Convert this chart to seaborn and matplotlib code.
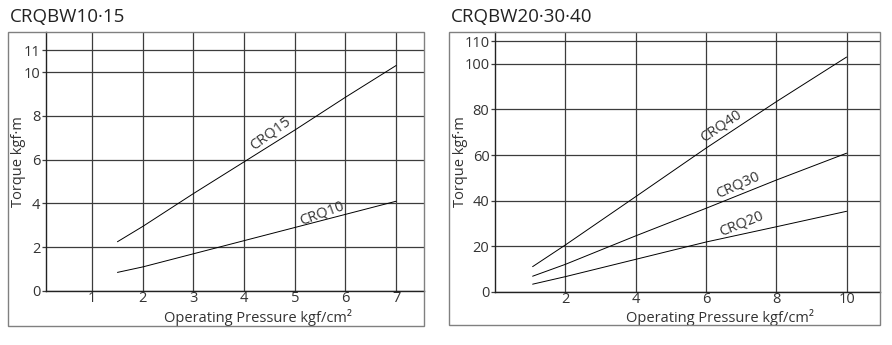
import matplotlib
matplotlib.use("Agg")
import matplotlib.pyplot as plt
from matplotlib.patches import Rectangle
import seaborn as sns
import pandas as pd

sns.set_theme(style="white")
plt.rcParams['font.family'] = ['Open Sans', 'DejaVu Sans']

# ---- data: left chart (CRQBW10·15) ----
left_title = "CRQBW10·15"
left_x = [1.5, 2, 3, 4, 5, 6, 7]
crq15 = [2.25, 2.95, 4.45, 5.9, 7.35, 8.85, 10.3]
crq10 = [0.85, 1.1, 1.7, 2.3, 2.9, 3.5, 4.1]
left_xticks = [1, 2, 3, 4, 5, 6, 7]
left_yticks = [0, 2, 4, 6, 8, 10, 11]

# ---- data: right chart (CRQBW20·30·40) ----
right_title = "CRQBW20·30·40"
right_x = [1.07, 2, 4, 6, 8, 10]
crq40 = [11.0, 20.5, 41.7, 63.0, 83.4, 103.0]
crq30 = [6.8, 12.0, 24.5, 36.6, 49.0, 60.8]
crq20 = [3.3, 6.6, 14.2, 21.8, 28.5, 35.3]
right_xticks = [2, 4, 6, 8, 10]
right_yticks = [0, 20, 40, 60, 80, 100, 110]

xlabel = "Operating Pressure kgf/cm²"
ylabel = "Torque kgf·m"

W, H = 892, 345
fig = plt.figure(figsize=(W / 100, H / 100), dpi=100)

def fx(px):
    return px / W

def fy(py):
    return 1 - py / H

grid_col = "#3c3c3c"
frame_col = "#808080"
txt_col = "#333333"
FS = 10.5

def setup(ax, xlim, ylim, xticks, yticks):
    ax.set_xlim(*xlim)
    ax.set_ylim(*ylim)
    ax.set_xticks(xticks)
    ax.set_yticks(yticks)
    ax.set_xticklabels([str(t) for t in xticks], fontsize=FS, color=txt_col)
    ax.set_yticklabels([str(t) for t in yticks], fontsize=FS, color=txt_col)
    ax.tick_params(axis="y", which="both", left=True, length=3, width=0.9,
                   color=grid_col, pad=1)
    ax.tick_params(axis="x", which="both", bottom=False, length=0, pad=0)
    ax.grid(True, color=grid_col, linewidth=0.9)
    for s in ["top", "right"]:
        ax.spines[s].set_visible(False)
    for s in ["left", "bottom"]:
        ax.spines[s].set_color("#222222")
        ax.spines[s].set_linewidth(1.0)
    ax.set_facecolor("white")

def labels(ax, left_px, bottom_px, width_px, height_px, xcenter_px, ylab_px):
    ax.set_xlabel(xlabel, fontsize=FS, color=txt_col)
    ax.set_ylabel(ylabel, fontsize=FS, color=txt_col)
    ax.xaxis.set_label_coords((xcenter_px - left_px) / width_px,
                              (bottom_px - 317) / height_px)
    ax.yaxis.set_label_coords((ylab_px - left_px) / width_px, 0.5)
    ax.xaxis.label.set_va("center")
    ax.yaxis.label.set_va("center")

# ---- left ----
axL = fig.add_axes([fx(46), fy(291), fx(424) - fx(46), fy(32) - fy(291)])
setup(axL, (0.09, 7.55), (0, 11.83), left_xticks, left_yticks)
dfL = pd.DataFrame({"x": left_x * 2, "y": crq15 + crq10,
                    "s": ["CRQ15"] * len(left_x) + ["CRQ10"] * len(left_x)})
sns.lineplot(data=dfL, x="x", y="y", units="s", estimator=None, color="black",
             linewidth=0.7, ax=axL, legend=False)
labels(axL, 46, 291, 378, 259, 258, 19)
axL.text(4.51, 7.2, "CRQ15", rotation=36, ha="center", va="center",
         rotation_mode="anchor", fontsize=FS, color=txt_col)
axL.text(5.54, 3.56, "CRQ10", rotation=20, ha="center", va="center",
         rotation_mode="anchor", fontsize=FS, color=txt_col)
fig.patches.append(Rectangle((fx(8), fy(326)), fx(424) - fx(8), fy(32) - fy(326),
                             transform=fig.transFigure, fill=False,
                             edgecolor=frame_col, linewidth=1.0))
fig.text(fx(10), fy(17), left_title, fontsize=13.5, color="#222222",
         ha="left", va="center")

# ---- right ----
axR = fig.add_axes([fx(495), fy(291.7), fx(880) - fx(495), fy(32) - fy(291.7)])
setup(axR, (0, 10.95), (0, 114), right_xticks, right_yticks)
dfR = pd.DataFrame({"x": right_x * 3, "y": crq40 + crq30 + crq20,
                    "s": ["CRQ40"] * len(right_x) + ["CRQ30"] * len(right_x)
                    + ["CRQ20"] * len(right_x)})
sns.lineplot(data=dfR, x="x", y="y", units="s", estimator=None, color="black",
             linewidth=0.7, ax=axR, legend=False)
labels(axR, 495, 291.7, 385, 259.7, 720, 460)
axR.text(6.42, 72.9, "CRQ40", rotation=34, ha="center", va="center",
         rotation_mode="anchor", fontsize=FS, color=txt_col)
axR.text(6.9, 46.9, "CRQ30", rotation=24, ha="center", va="center",
         rotation_mode="anchor", fontsize=FS, color=txt_col)
axR.text(7.0, 29.7, "CRQ20", rotation=22, ha="center", va="center",
         rotation_mode="anchor", fontsize=FS, color=txt_col)
fig.patches.append(Rectangle((fx(449), fy(325)), fx(880) - fx(449), fy(32) - fy(325),
                             transform=fig.transFigure, fill=False,
                             edgecolor=frame_col, linewidth=1.0))
fig.text(fx(451), fy(17), right_title, fontsize=13.5, color="#222222",
         ha="left", va="center")

fig.savefig("out.png", dpi=100)
